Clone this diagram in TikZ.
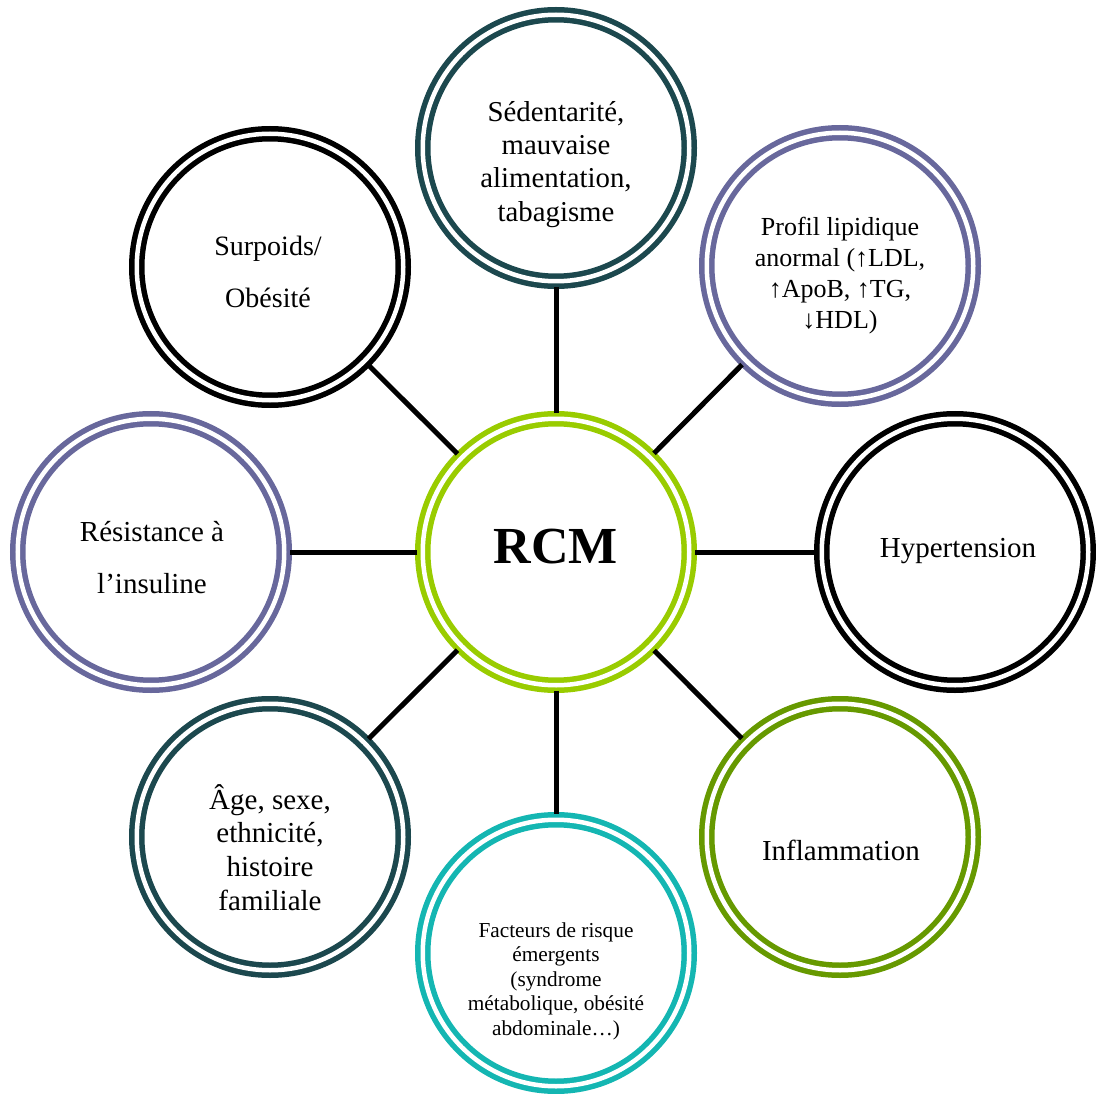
\documentclass[tikz,border=0pt]{standalone}
\usepackage{fontspec}
\setmainfont{Liberation Serif}
\definecolor{deepteal}{RGB}{28,72,78}
\definecolor{slateviolet}{RGB}{104,104,156}
\definecolor{olivegreen}{RGB}{102,153,0}
\definecolor{aqua}{RGB}{20,182,178}
\definecolor{lime}{RGB}{153,204,0}
\begin{document}
\begin{tikzpicture}[x=1pt,y=-1pt,
  ring/.style={circle, draw=#1, line width=5.5pt, double=white,
               double distance=4.5pt, minimum size=266.5pt,
               inner sep=0pt, outer sep=5.75pt},
  link/.style={line width=5pt, draw=black},
  lbl/.style args={#1/#2}{anchor=north, inner sep=0pt, align=center,
               font=\fontsize{#1}{#2}\selectfont}]
\useasboundingbox (0,0) rectangle (1096,1094);

% rings
\node[ring=lime]        (C)  at (556,552) {};
\node[ring=deepteal]    (N)  at (556,148) {};
\node[ring=slateviolet] (NE) at (840,266) {};
\node[ring=black]       (E)  at (955,552) {};
\node[ring=olivegreen]  (SE) at (840,837) {};
\node[ring=aqua]        (S)  at (556,953) {};
\node[ring=deepteal]    (SW) at (270,837) {};
\node[ring=slateviolet] (W)  at (151,552) {};
\node[ring=black]       (NW) at (270,267) {};

% spokes
\foreach \n in {N,NE,E,SE,S,SW,W,NW}
  \draw[link] (C) -- (\n);

% labels
\node[lbl={52/60}, font=\fontsize{52}{60}\selectfont\bfseries] (tC) at (556,511)
  {\rule{0pt}{1em}RCM};
\node[lbl={28.8/33.3}] (tN) at (556,92.2)
  {\rule{0pt}{1em}Sédentarité,\\mauvaise\\alimentation,\\tabagisme};
\node[lbl={26/31}] (tNE) at (840,209)
  {\rule{0pt}{1em}Profil lipidique\\anormal (↑LDL,\\↑ApoB, ↑TG,\\↓HDL)};
\node[lbl={29/33}] (tE) at (958,528)
  {\rule{0pt}{1em}Hypertension};
\node[lbl={29/33}] (tSE) at (841,831)
  {\rule{0pt}{1em}Inflammation};
\node[lbl={21.3/24.5}] (tS) at (556,915.7)
  {\rule{0pt}{1em}Facteurs de risque\\émergents\\(syndrome\\métabolique, obésité\\abdominale…)};
\node[lbl={29/33.7}] (tSW) at (270,780)
  {\rule{0pt}{1em}Âge, sexe,\\ethnicité,\\histoire\\familiale};
\node[lbl={29/52}] (tW) at (152,512)
  {\rule{0pt}{1em}Résistance à\\l’insuline};
\node[lbl={28/52}] (tNW) at (268,227)
  {\rule{0pt}{1em}Surpoids/\\Obésité};
\end{tikzpicture}
\end{document}
